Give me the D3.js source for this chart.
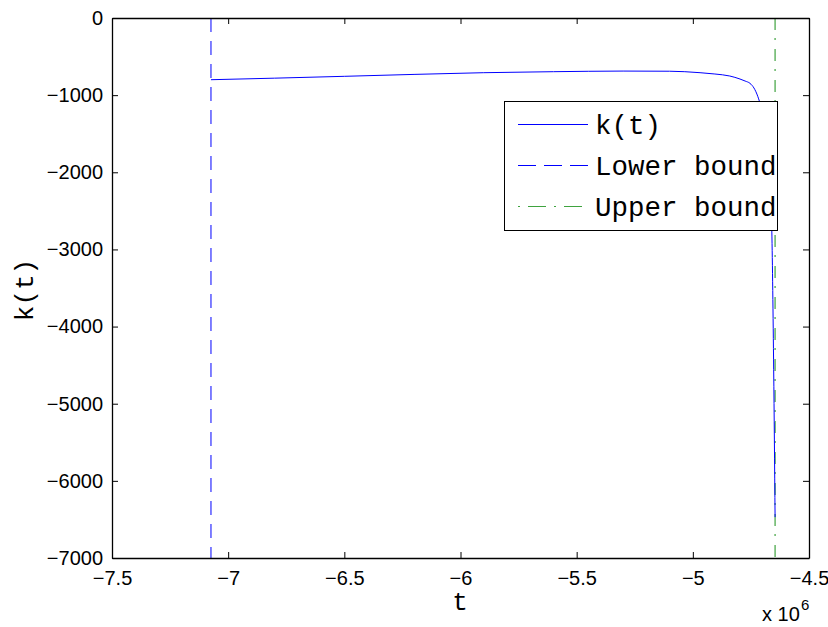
<!DOCTYPE html>
<html>
<head>
<meta charset="utf-8">
<script src="https://cdn.jsdelivr.net/npm/d3@7"></script>
<style>
  html, body { margin: 0; padding: 0; background: #fff; }
  svg { display: block; }
</style>
</head>
<body>
<script>
// ---- data ----
const tValues = [-7.074e6, -6.8e6, -6.5e6, -6.2e6, -5.9e6, -5.6e6, -5.3e6, -5.1e6, -4.969e6, -4.905e6, -4.841e6, -4.797e6, -4.775e6, -4.754e6, -4.737e6, -4.72e6, -4.707e6, -4.694e6, -4.68e6, -4.668e6, -4.66e6, -4.652e6, -4.646e6];
const kValues = [-800, -780, -756, -731, -709, -696, -688, -690, -709, -726, -752, -791, -817, -847, -907, -1020, -1150, -1350, -1700, -2150, -2760, -4560, -6470];
const lowerBound = -7.074e6;
const upperBound = -4.646e6;
const xTicks = [-7.5e6, -7e6, -6.5e6, -6e6, -5.5e6, -5e6, -4.5e6];
const xTickLabels = ["\u22127.5", "\u22127", "\u22126.5", "\u22126", "\u22125.5", "\u22125", "\u22124.5"];
const yTicks = [0, -1000, -2000, -3000, -4000, -5000, -6000, -7000];
const yTickLabels = ["0", "\u22121000", "\u22122000", "\u22123000", "\u22124000", "\u22125000", "\u22126000", "\u22127000"];
const legendLabels = ["k(t)", "Lower bound", "Upper bound"];

const W = 828, H = 627;
const L = 112, T = 18, R = 809, B = 558;

const svg = d3.select("body").append("svg").attr("width", W).attr("height", H);

const x = d3.scaleLinear().domain([-7.5e6, -4.5e6]).range([L, R]);
const y = d3.scaleLinear().domain([-7000, 0]).range([B, T]);

const tickFont = "'Liberation Sans', Arial, Helvetica, sans-serif";
const monoFont = "'Liberation Mono', 'Courier New', monospace";
const BLUE = "#0000ff", GREEN = "#3fa33f";

const plot = svg.append("g");
const data = tValues.map((t, i) => ({t, k: kValues[i]}));

// lower bound (dashed blue)
plot.append("line")
  .attr("x1", x(lowerBound)).attr("x2", x(lowerBound))
  .attr("y1", T).attr("y2", B)
  .style("stroke", BLUE).style("stroke-width", 1)
  .style("stroke-dasharray", "14,9");

// upper bound (dash-dot green)
plot.append("line")
  .attr("x1", x(upperBound)).attr("x2", x(upperBound))
  .attr("y1", T).attr("y2", B)
  .style("stroke", GREEN).style("stroke-width", 1.2)
  .style("stroke-dasharray", "12,8,2,9");

// k(t) curve
plot.append("path")
  .datum(data)
  .attr("fill", "none")
  .style("stroke", BLUE).style("stroke-width", 1)
  .attr("d", d3.line().x(d => x(d.t)).y(d => y(d.k)).curve(d3.curveMonotoneX));

// axes
const axB = svg.append("g").attr("transform", `translate(0,${B})`)
  .call(d3.axisBottom(x).tickValues(xTicks).tickFormat((d, i) => xTickLabels[i]).tickSizeInner(-6).tickSizeOuter(0).tickPadding(13));
const axT = svg.append("g").attr("transform", `translate(0,${T})`)
  .call(d3.axisTop(x).tickValues(xTicks).tickFormat("").tickSizeInner(-6).tickSizeOuter(0));
const axL = svg.append("g").attr("transform", `translate(${L},0)`)
  .call(d3.axisLeft(y).tickValues(yTicks).tickFormat((d, i) => yTickLabels[i]).tickSizeInner(-6).tickSizeOuter(0).tickPadding(9));
const axR = svg.append("g").attr("transform", `translate(${R},0)`)
  .call(d3.axisRight(y).tickValues(yTicks).tickFormat("").tickSizeInner(-6).tickSizeOuter(0));

[axB, axT, axL, axR].forEach(g => {
  g.select(".domain").attr("stroke", "#000").attr("stroke-width", 1.3);
  g.selectAll(".tick line").attr("stroke", "#000").attr("stroke-width", 1);
  g.selectAll("text").attr("fill", "#000").style("font-family", tickFont).style("font-size", "20px");
});

// exponent label
svg.append("text").attr("x", 762).attr("y", 621)
  .style("font-family", tickFont).style("font-size", "20px").attr("fill", "#000").text("x 10");
svg.append("text").attr("x", 801).attr("y", 610)
  .style("font-family", tickFont).style("font-size", "15px").attr("fill", "#000").text("6");

// axis labels
svg.append("text").attr("x", 460).attr("y", 610).attr("text-anchor", "middle")
  .style("font-family", monoFont).style("font-size", "26px").attr("fill", "#000").text("t");
svg.append("text").attr("transform", "translate(33,290) rotate(-90)").attr("text-anchor", "middle")
  .style("font-family", monoFont).style("font-size", "26px").attr("fill", "#000").text("k(t)");

// legend
const lg = svg.append("g");
lg.append("rect").attr("x", 504.5).attr("y", 101.5).attr("width", 273).attr("height", 129)
  .style("fill", "#fff").style("stroke", "#000").style("stroke-width", 1);
const rowsY = [124.5, 165.5, 206.5];
const styles = [
  {stroke: BLUE, dash: "none"},
  {stroke: BLUE, dash: "18,8"},
  {stroke: GREEN, dash: "2,8,18,8"}
];
legendLabels.forEach((lab, i) => {
  lg.append("line").attr("x1", 518).attr("x2", 588).attr("y1", rowsY[i]).attr("y2", rowsY[i])
    .style("stroke", styles[i].stroke).style("stroke-width", 1.2)
    .style("stroke-dasharray", styles[i].dash);
  lg.append("text").attr("x", 595).attr("y", rowsY[i] + 9.5)
    .style("font-family", monoFont).style("font-size", "27.5px").attr("fill", "#000").text(lab);
});
</script>
</body>
</html>
